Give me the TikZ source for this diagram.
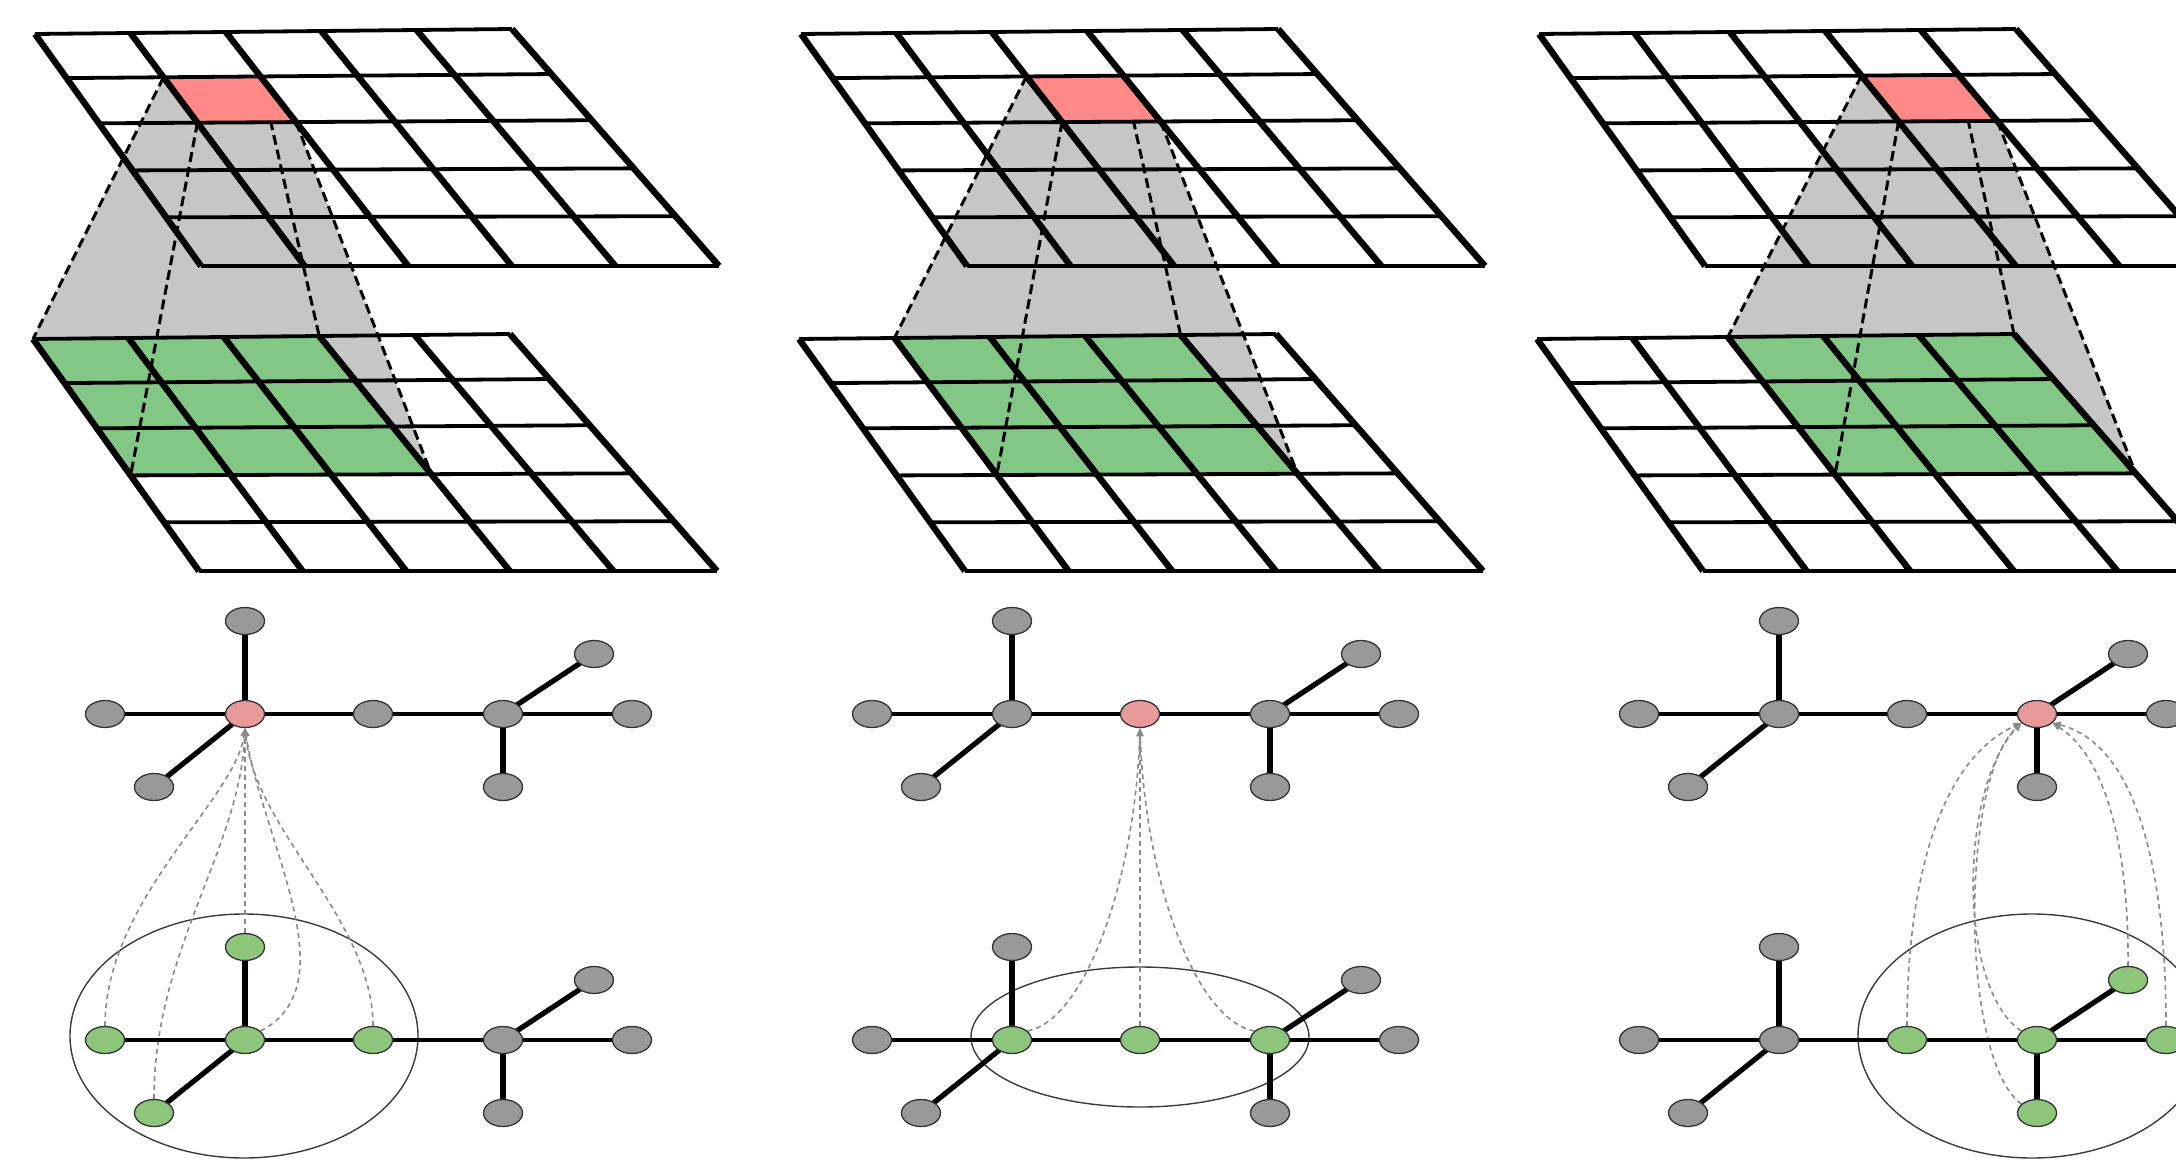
\documentclass[tikz,border=0pt]{standalone}
\usetikzlibrary{calc,shapes.geometric,arrows.meta,backgrounds}
\definecolor{cellred}{HTML}{FF8888}
\definecolor{cellgreen}{HTML}{82C785}
\definecolor{cone}{HTML}{C6C6C6}
\definecolor{ngray}{HTML}{999999}
\definecolor{nred}{HTML}{E89A9B}
\definecolor{ngreen}{HTML}{8DC57B}
\definecolor{nline}{HTML}{333333}
\definecolor{flowc}{HTML}{8A8A8A}
\definecolor{ringc}{HTML}{3C3C3C}

% #1 name, #2 dx, #3 dy : 6x6 grid of corner points (bilinear patch)
\newcommand\makegrid[3]{%
 \foreach \j/\v in {0/0,1/0.19,2/0.385,3/0.588,4/0.79,5/1}{%
  \coordinate (tmpL) at ($(35+#2,34+#3)!\v!(201+#2,266+#3)$);
  \coordinate (tmpR) at ($(512+#2,29+#3)!\v!(719+#2,266+#3)$);
  \foreach \i in {0,...,5}{%
   \pgfmathsetmacro\uu{\i/5}
   \coordinate (#1-\i-\j) at ($(tmpL)!\uu!(tmpR)$);
  }}}
\newcommand\drawgrid[1]{%
 \foreach \j in {0,...,5}{\draw[hline] (#1-0-\j) -- (#1-5-\j);}
 \foreach \i in {0,...,5}{\draw[sline] (#1-\i-0) -- (#1-\i-5);}}
% #1 top grid, #2 lower grid, #3 red column, #4 first green column
\newcommand\convpanel[4]{%
 \pgfmathtruncatemacro\cc{#3+1}%
 \pgfmathtruncatemacro\gg{#4+3}%
 \fill[cone] (#1-#3-1) -- (#1-\cc-1) -- (#1-\cc-2) -- (#2-\gg-3) -- (#2-#4-3) -- (#2-#4-0) -- cycle;
 \fill[cellgreen] (#2-#4-0) -- (#2-\gg-0) -- (#2-\gg-3) -- (#2-#4-3) -- cycle;
 \draw[cutline] (#1-#3-1) -- (#2-#4-0);
 \draw[cutline] (#1-#3-2) -- (#2-#4-3);
 \draw[cutline] (#1-\cc-1) -- (#2-\gg-0);
 \draw[cutline] (#1-\cc-2) -- (#2-\gg-3);
 \fill[cellred] (#1-#3-1) -- (#1-\cc-1) -- (#1-\cc-2) -- (#1-#3-2) -- cycle;
 \drawgrid{#1}\drawgrid{#2}}

\begin{document}
\begin{tikzpicture}[x=1pt,y=-1pt,
  hline/.style={line width=3.8pt,black},
  sline/.style={line width=6.4pt,black},
  cutline/.style={line width=3pt,black,dash pattern=on 10pt off 5pt},
  gnode/.style={ellipse,draw=nline,line width=1.3pt,minimum width=39pt,minimum height=27pt,inner sep=0pt},
  gn/.style={gnode,fill=ngray},
  rn/.style={gnode,fill=nred},
  en/.style={gnode,fill=ngreen},
  flow/.style={draw=flowc,line width=1.6pt,dash pattern=on 5pt off 4pt,-{Triangle[length=8pt,width=6.5pt]}},
  ring/.style={draw=ringc,line width=1.4pt}]
\useasboundingbox (0,0) rectangle (2176,1159);
\begin{scope}[on background layer]
 \fill[white] (0,0) rectangle (2176,1159);
\end{scope}

% ---------- convolution on grids ----------
\makegrid{A1}{0}{0}      \makegrid{B1}{-2}{305}
\makegrid{A2}{766}{0}    \makegrid{B2}{764}{305}
\makegrid{A3}{1504}{0}   \makegrid{B3}{1502}{305}
\convpanel{A1}{B1}{1}{0}
\convpanel{A2}{B2}{2}{1}
\convpanel{A3}{B3}{3}{2}

% ---------- graphs ----------
\begin{scope}
\foreach \n/\x/\y/\s in {t1/245/621/gn,t2/105/714/gn,t3/245/714/rn,t4/154/787/gn,t5/373/714/gn,t6/503/714/gn,t7/594/654/gn,t8/632/714/gn,t9/503/787/gn,
  b1/245/947/en,b2/105/1040/en,b3/245/1040/en,b4/154/1113/en,b5/373/1040/en,b6/503/1040/gn,b7/594/980/gn,b8/632/1040/gn,b9/503/1113/gn}
  \node[\s] (p1\n) at (\x,\y) {};
\end{scope}
\begin{scope}[shift={(767,0)}]
\foreach \n/\x/\y/\s in {t1/245/621/gn,t2/105/714/gn,t3/245/714/gn,t4/154/787/gn,t5/373/714/rn,t6/503/714/gn,t7/594/654/gn,t8/632/714/gn,t9/503/787/gn,
  b1/245/947/gn,b2/105/1040/gn,b3/245/1040/en,b4/154/1113/gn,b5/373/1040/en,b6/503/1040/en,b7/594/980/gn,b8/632/1040/gn,b9/503/1113/gn}
  \node[\s] (p2\n) at (\x,\y) {};
\end{scope}
\begin{scope}[shift={(1534,0)}]
\foreach \n/\x/\y/\s in {t1/245/621/gn,t2/105/714/gn,t3/245/714/gn,t4/154/787/gn,t5/373/714/gn,t6/503/714/rn,t7/594/654/gn,t8/632/714/gn,t9/503/787/gn,
  b1/245/947/gn,b2/105/1040/gn,b3/245/1040/gn,b4/154/1113/gn,b5/373/1040/en,b6/503/1040/en,b7/594/980/en,b8/632/1040/en,b9/503/1113/en}
  \node[\s] (p3\n) at (\x,\y) {};
\end{scope}

\begin{scope}[on background layer]
 % receptive regions
 \draw[ring] (244,1036) ellipse [x radius=174pt, y radius=122pt];
 \draw[ring] (1140,1037) ellipse [x radius=169pt, y radius=70pt];
 \draw[ring] (2032,1036) ellipse [x radius=174pt, y radius=122pt];
 % aggregation flows, panel 1
 \draw[flow] (p1b2.north) .. controls (105,900) and (235,800) .. (p1t3.south);
 \draw[flow] (p1b4.north) .. controls (154,950) and (240,850) .. (p1t3.south);
 \draw[flow] (p1b1.north) -- (p1t3.south);
 \draw[flow] (p1b3.30) .. controls (350,985) and (262,840) .. (p1t3.south);
 \draw[flow] (p1b5.north) .. controls (373,920) and (255,830) .. (p1t3.south);
 % panel 2
 \begin{scope}[shift={(767,0)}]
 \draw[flow] (p2b3.30) .. controls (318,1020) and (368,880) .. (p2t5.south);
 \draw[flow] (p2b6.150) .. controls (428,1020) and (378,880) .. (p2t5.south);
 \draw[flow] (p2b5.north) -- (p2t5.south);
 \end{scope}
 % panel 3
 \begin{scope}[shift={(1534,0)}]
 \draw[flow] (p3b5.north) .. controls (373,880) and (406,760) .. (p3t6.210);
 \draw[flow] (p3b6.150) .. controls (424,990) and (424,790) .. (p3t6.210);
 \draw[flow] (p3b9.150) .. controls (426,1060) and (426,780) .. (p3t6.210);
 \draw[flow] (p3b7.north) .. controls (595,860) and (576,760) .. (p3t6.330);
 \draw[flow] (p3b8.north) .. controls (632,880) and (606,745) .. (p3t6.330);
 \end{scope}
 % graph edges
 \foreach \p in {1,2,3}{
  \foreach \r in {t,b}{
   \foreach \a/\b/\w in {1/3/5.8,2/3/4.8,3/4/5.2,3/5/4.8,5/6/4.8,6/7/5.2,6/8/4.8,6/9/5.8}{
    \draw[line width=\w pt,black] (p\p\r\a.center) -- (p\p\r\b.center);
   }}}
\end{scope}
\end{tikzpicture}
\end{document}
